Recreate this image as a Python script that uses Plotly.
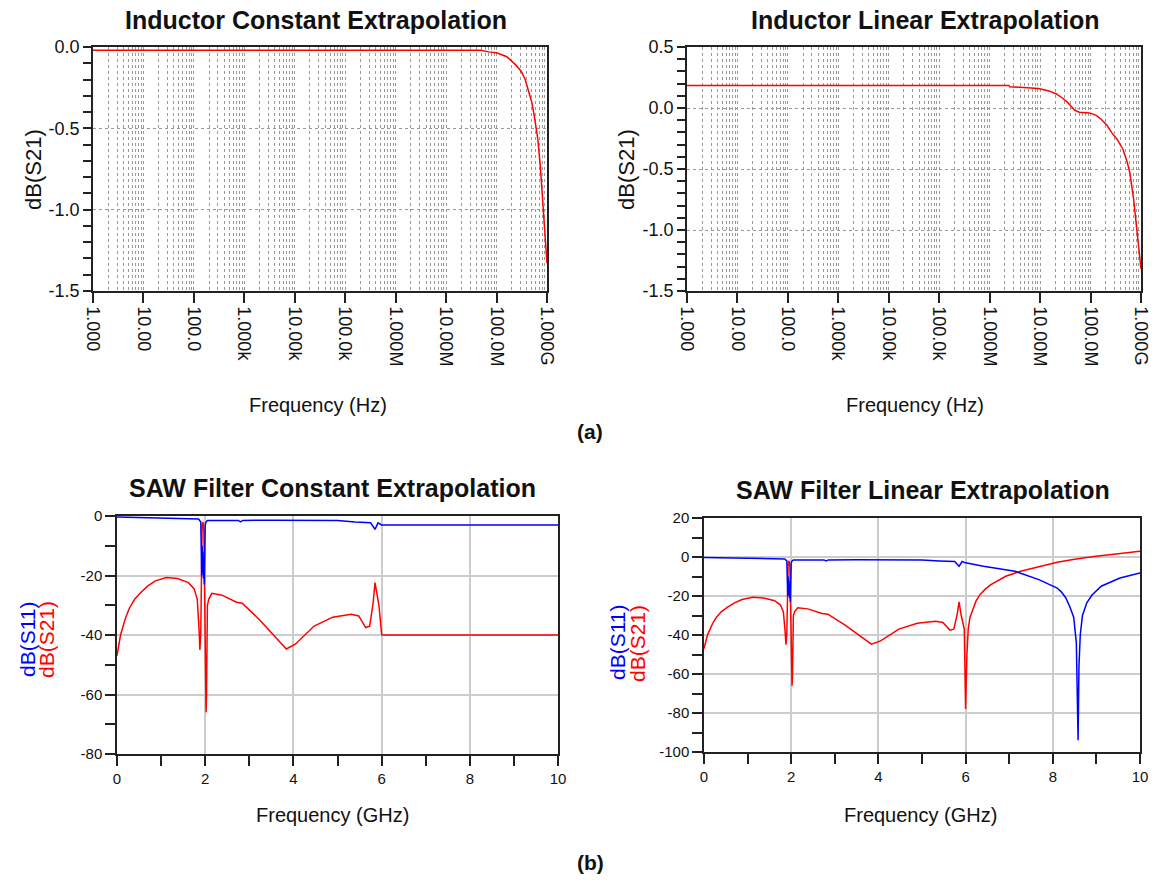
import plotly.graph_objects as go

W, H = 1156, 882
FONT = "Liberation Sans, Arial, sans-serif"

# ---------------- data ----------------
# Inductor, constant extrapolation (Hz, dB)
ind_const_f = [1, 1e3, 1e6, 4.8e7, 7e7, 1e8, 1.6e8, 2.4e8, 3.1e8, 3.7e8, 4.3e8, 5.0e8, 5.5e8, 6.1e8, 6.6e8,
               7.4e8, 8.3e8, 9.1e8, 1e9]
ind_const_s21 = [-0.02, -0.02, -0.02, -0.02, -0.03, -0.035, -0.06, -0.11, -0.15, -0.2, -0.27, -0.34, -0.41,
                 -0.49, -0.57, -0.74, -0.98, -1.15, -1.33]

# Inductor, linear extrapolation (Hz, dB)
ind_lin_f = [1, 1e3, 1e6, 2.4e6, 2.5e6, 9.3e6, 1.5e7, 2.1e7, 2.8e7, 3.5e7, 4.2e7, 4.9e7, 6e7, 9.5e7, 1.3e8,
             1.6e8, 2.1e8, 2.6e8, 3.4e8, 4.4e8, 5.3e8, 6e8, 7.1e8, 8.5e8, 1e9]
ind_lin_s21 = [0.185, 0.185, 0.185, 0.185, 0.175, 0.16, 0.14, 0.115, 0.08, 0.046, 0.01, -0.02, -0.035, -0.04,
               -0.06, -0.09, -0.14, -0.2, -0.26, -0.34, -0.44, -0.53, -0.74, -1.02, -1.32]

# SAW filter, constant extrapolation (GHz, dB)
saw_const_f11 = [0, 0.5, 1.0, 1.5, 1.85, 1.9, 1.92, 1.93, 1.94, 1.95, 1.96, 1.97, 1.98, 2.0, 2.02, 2.05,
                 2.5, 2.75, 2.8, 2.85, 3.5, 4.5, 5.0, 5.4, 5.75, 5.85, 5.92, 6.0, 10]
saw_const_s11 = [-0.3, -0.5, -0.7, -0.9, -1.0, -2, -20, -10, -19, -12, -21, -14, -23, -3, -2, -1.5,
                 -1.5, -1.5, -2.0, -1.5, -1.4, -1.5, -1.5, -2.0, -2.3, -4.5, -2.3, -3, -3]
saw_const_f21 = [0, 0.03, 0.08, 0.12, 0.2, 0.28, 0.4, 0.54, 0.7, 0.87, 1.12, 1.37, 1.62, 1.75, 1.82, 1.86,
                 1.88, 1.9, 1.93, 1.95, 1.97, 1.99, 2.01, 2.02, 2.03, 2.05, 2.08, 2.15, 2.38, 2.71, 2.84,
                 3.22, 3.55, 3.84, 4.05, 4.47, 4.89, 5.31, 5.48, 5.64, 5.73, 5.81, 5.85, 5.94, 6.0, 6.01, 10]
saw_const_s21 = [-47, -44, -40, -38, -34, -31, -28, -25.7, -23.5, -21.8, -20.7, -21, -22.4, -24.5, -28, -38,
                 -45, -39, -3, -2, -5, -30, -55, -66, -60, -30, -28, -26, -26.6, -29, -29.3,
                 -34.7, -40, -44.7, -43, -37, -34, -33, -33.6, -37.5, -37, -29, -22.4, -30, -39.7, -40, -40]

# SAW filter, linear extrapolation (GHz, dB)
saw_lin_f11 = [0, 0.5, 1.0, 1.5, 1.85, 1.9, 1.92, 1.93, 1.94, 1.95, 1.96, 1.97, 1.98, 2.0, 2.02, 2.05,
               2.5, 2.75, 2.8, 2.85, 3.5, 4.5, 5.0, 5.4, 5.75, 5.85, 5.92, 6.0, 6.41, 7.13, 7.68, 8.1,
               8.2, 8.3, 8.4, 8.48, 8.54, 8.58, 8.6, 8.63, 8.68, 8.78, 8.9, 9.11, 9.54, 10]
saw_lin_s11 = [-0.3, -0.5, -0.7, -0.9, -1.0, -2, -20, -10, -19, -12, -21, -14, -23, -3, -2, -1.5,
               -1.5, -1.5, -2.0, -1.5, -1.4, -1.5, -1.5, -2.0, -2.3, -4.8, -2.3, -3, -4.8, -7.3, -11.6, -15.9,
               -18, -21, -26, -31, -44, -94, -56, -40, -30, -23.5, -19.5, -15, -10.8, -8.2]
saw_lin_f21 = [0, 0.03, 0.08, 0.12, 0.2, 0.28, 0.4, 0.54, 0.7, 0.87, 1.12, 1.37, 1.62, 1.75, 1.82, 1.86,
               1.88, 1.9, 1.93, 1.95, 1.97, 1.99, 2.01, 2.02, 2.03, 2.05, 2.08, 2.15, 2.38, 2.71, 2.84,
               3.22, 3.55, 3.84, 4.05, 4.47, 4.89, 5.31, 5.48, 5.64, 5.73, 5.81, 5.85, 5.9, 5.97, 6.0,
               6.03, 6.06, 6.1, 6.16, 6.24, 6.33, 6.45, 6.58, 6.75, 6.92, 7.26, 7.68, 8.1, 8.5, 8.94,
               9.5, 10]
saw_lin_s21 = [-47, -44, -40, -38, -34, -31, -28, -25.7, -23.5, -21.8, -20.7, -21, -22.4, -24.5, -28, -38,
               -45, -39, -3, -2, -5, -30, -55, -66, -60, -30, -28, -26, -26.6, -29, -29.3,
               -34.7, -40, -44.7, -43, -37, -34, -33, -33.6, -37.5, -37, -29, -23, -30, -37, -78,
               -50, -37, -31, -27, -22.5, -19.3, -16.5, -14.2, -12, -9.9, -7.3, -4.8, -2.7, -1.1, 0.3,
               1.7, 2.9]

# tick labels
log_tickvals = [1, 10, 100, 1e3, 1e4, 1e5, 1e6, 1e7, 1e8, 1e9]
log_ticktext = ["1.000", "10.00", "100.0", "1.000k", "10.00k", "100.0k", "1.000M", "10.00M", "100.0M", "1.000G"]
ind_const_yvals = [0.0, -0.5, -1.0, -1.5]
ind_const_ytext = ["0.0", "-0.5", "-1.0", "-1.5"]
ind_lin_yvals = [0.5, 0.0, -0.5, -1.0, -1.5]
ind_lin_ytext = ["0.5", "0.0", "-0.5", "-1.0", "-1.5"]
saw_xvals = [0, 2, 4, 6, 8, 10]
saw_xtext = ["0", "2", "4", "6", "8", "10"]
saw_const_yvals = [0, -20, -40, -60, -80]
saw_const_ytext = ["0", "-20", "-40", "-60", "-80"]
saw_lin_yvals = [20, 0, -20, -40, -60, -80, -100]
saw_lin_ytext = ["20", "0", "-20", "-40", "-60", "-80", "-100"]

log_minor = [m * 10 ** k for k in range(9) for m in range(2, 10)]

RED = "#ff0000"
BLUE = "#0000ff"

fig = go.Figure()

def px_x(p):
    return p / W

def px_y(p):
    return 1 - p / H

fig.add_trace(go.Scatter(x=ind_const_f, y=ind_const_s21, mode="lines", line=dict(color=RED, width=1.5),
                         xaxis="x", yaxis="y", showlegend=False))
fig.add_trace(go.Scatter(x=ind_lin_f, y=ind_lin_s21, mode="lines", line=dict(color=RED, width=1.5),
                         xaxis="x2", yaxis="y2", showlegend=False))
fig.add_trace(go.Scatter(x=saw_const_f21, y=saw_const_s21, mode="lines", line=dict(color=RED, width=1.5),
                         xaxis="x3", yaxis="y3", showlegend=False))
fig.add_trace(go.Scatter(x=saw_const_f11, y=saw_const_s11, mode="lines", line=dict(color=BLUE, width=1.5),
                         xaxis="x3", yaxis="y3", showlegend=False))
fig.add_trace(go.Scatter(x=saw_lin_f21, y=saw_lin_s21, mode="lines", line=dict(color=RED, width=1.5),
                         xaxis="x4", yaxis="y4", showlegend=False))
fig.add_trace(go.Scatter(x=saw_lin_f11, y=saw_lin_s11, mode="lines", line=dict(color=BLUE, width=1.5),
                         xaxis="x4", yaxis="y4", showlegend=False))

tickfont_top = dict(family=FONT, size=18, color="#111")
tickfont_bot = dict(family=FONT, size=15, color="#111")

def log_xaxis(domain):
    return dict(domain=domain, type="log", range=[0, 9], tickvals=log_tickvals, ticktext=log_ticktext,
                tickangle=90, tickfont=tickfont_top, ticks="outside", ticklen=10, tickwidth=1.5,
                tickcolor="#222", showline=True, linecolor="#222", linewidth=1.5, mirror=True,
                showgrid=True, gridcolor="#999999", griddash="dot", gridwidth=1, zeroline=False,
                automargin=False,
                minor=dict(tickvals=log_minor, showgrid=True, gridcolor="#999999", griddash="dot",
                           gridwidth=1, ticks=""))

def lin_yaxis(domain, rng, vals, text, anchor, minor_dtick, grid_dash, tickfont, ticklen):
    return dict(domain=domain, range=rng, tickvals=vals, ticktext=text, tickfont=tickfont,
                ticks="outside", ticklen=ticklen, tickwidth=1.5, tickcolor="#222",
                showline=True, linecolor="#222", linewidth=1.5, mirror=True,
                showgrid=True, gridcolor="#999999" if grid_dash == "dot" else "#cccccc",
                griddash=grid_dash, gridwidth=1 if grid_dash == "dot" else 1.5, zeroline=False,
                anchor=anchor, automargin=False,
                minor=dict(dtick=minor_dtick, ticks="outside", ticklen=ticklen, tickwidth=1.5,
                           tickcolor="#222", showgrid=False))

def saw_xaxis(domain, anchor):
    return dict(domain=domain, range=[0, 10], tickvals=saw_xvals, ticktext=saw_xtext, tickfont=tickfont_bot,
                ticks="outside", ticklen=10, tickwidth=1.5, tickcolor="#222",
                showline=True, linecolor="#222", linewidth=1.5, mirror=True,
                showgrid=True, gridcolor="#cccccc", gridwidth=1.5, zeroline=False, anchor=anchor,
                automargin=False,
                minor=dict(dtick=1, ticks="outside", ticklen=10, tickwidth=1.5, tickcolor="#222",
                           showgrid=False))

top_y = [px_y(291), px_y(47)]
fig.update_layout(
    width=W, height=H, margin=dict(l=0, r=0, t=0, b=0, autoexpand=False),
    paper_bgcolor="white", plot_bgcolor="white",
    font=dict(family=FONT, color="#111"),
    xaxis=dict(**log_xaxis([px_x(93), px_x(547)]), anchor="y"),
    yaxis=lin_yaxis(top_y, [-1.5, 0.0], ind_const_yvals, ind_const_ytext, "x", 0.1, "dot", tickfont_top, 8),
    xaxis2=dict(**log_xaxis([px_x(687), px_x(1141)]), anchor="y2"),
    yaxis2=lin_yaxis(top_y, [-1.5, 0.5], ind_lin_yvals, ind_lin_ytext, "x2", 0.1, "dot", tickfont_top, 8),
    xaxis3=saw_xaxis([px_x(117), px_x(558)], "y3"),
    yaxis3=lin_yaxis([px_y(754), px_y(516)], [-80, 0], saw_const_yvals, saw_const_ytext, "x3", 10,
                     "solid", tickfont_bot, 10),
    xaxis4=saw_xaxis([px_x(704), px_x(1140)], "y4"),
    yaxis4=lin_yaxis([px_y(752), px_y(518)], [-100, 20], saw_lin_yvals, saw_lin_ytext, "x4", 10,
                     "solid", tickfont_bot, 10),
)

def ann(text, x, y, size, bold=False, angle=0, color="#111"):
    t = f"<b>{text}</b>" if bold else text
    fig.add_annotation(text=t, x=px_x(x), y=px_y(y), xref="paper", yref="paper", showarrow=False,
                       font=dict(family=FONT, size=size, color=color), textangle=angle,
                       xanchor="center", yanchor="middle")

ann("Inductor Constant Extrapolation", 316, 20, 25, bold=True)
ann("Inductor Linear Extrapolation", 925, 20, 25, bold=True)
ann("SAW Filter Constant Extrapolation", 333, 488, 25, bold=True)
ann("SAW Filter Linear Extrapolation", 923, 490, 25, bold=True)
ann("Frequency (Hz)", 318, 405, 20)
ann("Frequency (Hz)", 915, 405, 20)
ann("Frequency (GHz)", 333, 815, 20)
ann("Frequency (GHz)", 920, 815, 20)
ann("dB(S21)", 33, 170, 22, angle=-90)
ann("dB(S21)", 626, 170, 22, angle=-90)
ann("dB(S11)", 27, 640, 21, angle=-90, color=BLUE)
ann("dB(S21)", 46, 640, 21, angle=-90, color=RED)
ann("dB(S11)", 617, 643, 21, angle=-90, color=BLUE)
ann("dB(S21)", 637, 643, 21, angle=-90, color=RED)
ann("(a)", 590, 431, 21, bold=True)
ann("(b)", 590, 862, 21, bold=True)

fig.write_html("out.html")
